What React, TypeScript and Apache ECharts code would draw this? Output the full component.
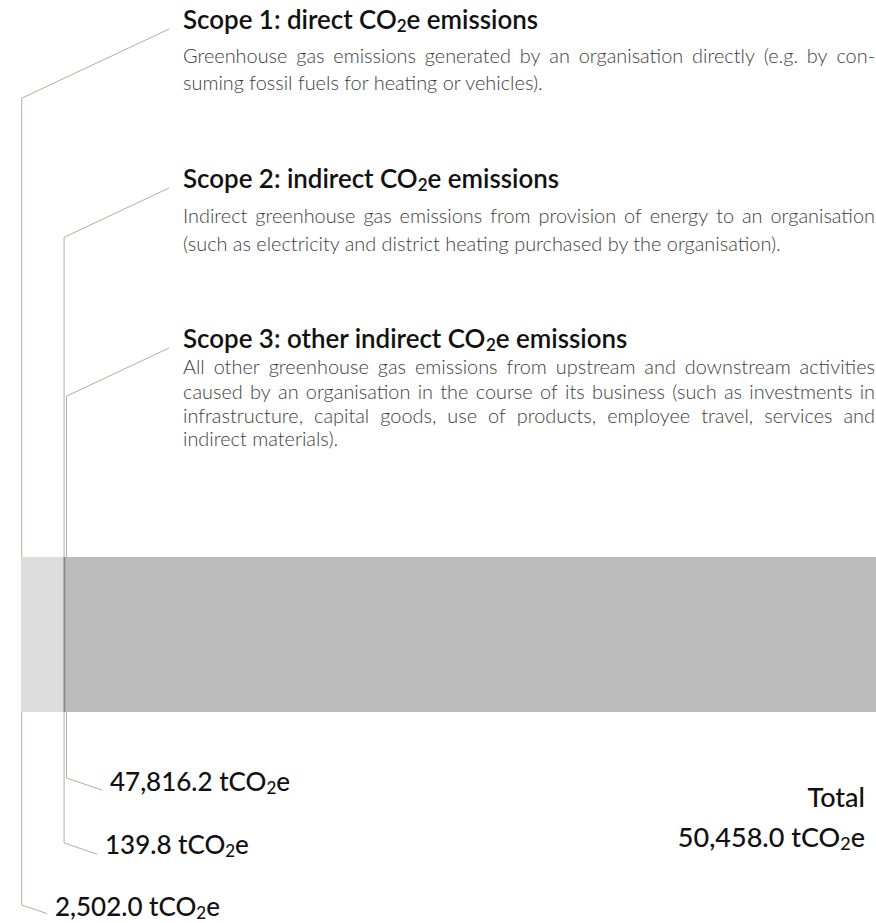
import React, { useEffect, useRef } from 'react';
import * as echarts from 'echarts';

const scopeNames = ['Scope 1', 'Scope 2', 'Scope 3'];
const scopeValues = [2502.0, 139.8, 47816.2];
const totalValue = 50458.0;
const barColors = ['#dddddd', '#888888', '#bbbbbb'];
const titleParts = [
  ['Scope 1: direct CO', '2', 'e emissions'],
  ['Scope 2: indirect CO', '2', 'e emissions'],
  ['Scope 3: other indirect CO', '2', 'e emissions'],
];
const descLines = [
  [
    'Greenhouse gas emissions generated by an organisation directly (e.g. by con-',
    'suming fossil fuels for heating or vehicles).',
  ],
  [
    'Indirect greenhouse gas emissions from provision of energy to an organisation',
    '(such as electricity and district heating purchased by the organisation).',
  ],
  [
    'All other greenhouse gas emissions from upstream and downstream activities',
    'caused by an organisation in the course of its business (such as investments in',
    'infrastructure, capital goods, use of products, employee travel, services and',
    'indirect materials).',
  ],
];
const unitText = 'tCO';
const totalCaption = 'Total';

const FONT = 'Lato, "Noto Sans", "DejaVu Sans", sans-serif';
const LEADER = '#b5ad9c';

const fmt = (v: number) =>
  v.toLocaleString('en-US', { minimumFractionDigits: 1, maximumFractionDigits: 1 });

let measureCtx: CanvasRenderingContext2D | null = null;
function measure(text: string, size: number, weight: string | number) {
  if (!measureCtx) measureCtx = document.createElement('canvas').getContext('2d');
  measureCtx!.font = `${weight} ${size}px ${FONT}`;
  return measureCtx!.measureText(text).width;
}

export default function App() {
  const ref = useRef<HTMLDivElement>(null);
  useEffect(() => {
    const el = ref.current!;
    const chart = echarts.init(el, null, { renderer: 'svg' });
    const barTop = 557;
    const barH = 155;
    const barBottom = barTop + barH;
    chart.setOption({
      animation: false,
      grid: { left: 21, right: 0, top: barTop, height: barH },
      xAxis: { type: 'value', min: 0, max: totalValue, show: false },
      yAxis: { type: 'category', data: ['Emissions'], show: false },
      series: scopeNames.map((n, i) => ({
        name: n,
        type: 'bar',
        stack: 'total',
        barWidth: '100%',
        silent: true,
        data: [scopeValues[i]],
        itemStyle: { color: barColors[i] },
      })),
    });

    const cumulative = scopeValues.map((_, i) =>
      scopeValues.slice(0, i).reduce((a, b) => a + b, 0)
    );
    const starts = cumulative.map((c) => chart.convertToPixel({ xAxisIndex: 0 }, c) as number);

    const textX = 183;
    const textRight = 875;
    const titleWeight = 600;
    const t3 = titleParts[2];
    const t3w =
      measure(t3[0] + t3[2], 20, titleWeight) + measure(t3[1], 13.2, titleWeight);
    const titleSize = Math.round(((20 * 445) / t3w) * 10) / 10;
    const descWeight = 300;
    const descBase = 16;
    const descSize =
      Math.round(((descBase * 598) / measure(descLines[1][1], descBase, descWeight)) * 10) / 10;
    const titleBaselines = [28, 187, 347];
    const descBaselines = [
      [62, 89],
      [222, 250],
      [373, 398, 422, 445],
    ];
    const valueSize = 26;
    const totalSize = 27;
    const valueX = [55, 105, 110];
    const valueBaselines = [915, 853, 790];
    const bottomCorner = [905, 843, 778];

    const els: any[] = [];
    const center = (baseline: number, size: number) => baseline - 0.33 * size;

    const richFor = (size: number, weight: string | number, color: string) => ({
      a: { fontSize: size, fontWeight: weight, fontFamily: FONT, fill: color, verticalAlign: 'middle' },
      b: {
        fontSize: Math.round(size * 0.66),
        fontWeight: weight,
        fontFamily: FONT,
        fill: color,
        verticalAlign: 'middle',
        padding: [Math.round(size * 0.5), 0, 0, 0],
      },
    });

    scopeNames.forEach((_, i) => {
      const lx = starts[i] + 0.7;
      const tb = titleBaselines[i];
      const endX = 169;
      const endY = tb + 1;
      els.push({
        type: 'polyline',
        silent: true,
        shape: { points: [[endX, endY], [lx, endY + (endX - lx) * 0.47], [lx, barTop]] },
        style: { stroke: LEADER, lineWidth: 1, fill: null },
      });
      const vx = valueX[i];
      els.push({
        type: 'polyline',
        silent: true,
        shape: {
          points: [
            [lx, barBottom],
            [lx, bottomCorner[i]],
            [vx - 8, bottomCorner[i] + (vx - 8 - lx) * 0.34],
          ],
        },
        style: { stroke: LEADER, lineWidth: 1, fill: null },
      });
      const tp = titleParts[i];
      els.push({
        type: 'text',
        silent: true,
        x: textX,
        y: center(tb, titleSize),
        style: {
          text: `{a|${tp[0]}}{b|${tp[1]}}{a|${tp[2]}}`,
          rich: richFor(titleSize, titleWeight, '#111111'),
          verticalAlign: 'middle',
          align: 'left',
        },
      });
      descLines[i].forEach((line, j) => {
        const y = center(descBaselines[i][j], descSize);
        const last = j === descLines[i].length - 1;
        const common = {
          fontSize: descSize,
          fontWeight: descWeight,
          fontFamily: FONT,
          fill: '#3d3d3d',
          verticalAlign: 'middle',
          align: 'left',
        };
        if (last) {
          els.push({ type: 'text', silent: true, x: textX, y, style: { text: line, ...common } });
        } else {
          const words = line.split(' ');
          const widths = words.map((w) => measure(w, descSize, descWeight));
          const sum = widths.reduce((a, b) => a + b, 0);
          const gap = (textRight - textX - sum) / (words.length - 1);
          let cx = textX;
          words.forEach((w, k) => {
            els.push({ type: 'text', silent: true, x: cx, y, style: { text: w, ...common } });
            cx += widths[k] + gap;
          });
        }
      });
      els.push({
        type: 'text',
        silent: true,
        x: vx,
        y: center(valueBaselines[i], valueSize),
        style: {
          text: `{a|${fmt(scopeValues[i])} ${unitText}}{b|2}{a|e}`,
          rich: richFor(valueSize, 500, '#111111'),
          verticalAlign: 'middle',
          align: 'left',
        },
      });
    });

    els.push({
      type: 'text',
      silent: true,
      x: 865,
      y: center(805, totalSize),
      style: {
        text: totalCaption,
        fontSize: totalSize,
        fontWeight: 500,
        fontFamily: FONT,
        fill: '#111111',
        align: 'right',
        verticalAlign: 'middle',
      },
    });
    els.push({
      type: 'text',
      silent: true,
      x: 865,
      y: center(845, totalSize),
      style: {
        text: `{a|${fmt(totalValue)} ${unitText}}{b|2}{a|e}`,
        rich: richFor(totalSize, 500, '#111111'),
        align: 'right',
        verticalAlign: 'middle',
      },
    });

    chart.setOption({ graphic: { elements: els } });
    return () => chart.dispose();
  }, []);
  return (
    <div
      ref={ref}
      style={{ position: 'absolute', left: 0, top: 0, width: 876, height: 923, background: '#ffffff' }}
    />
  );
}
